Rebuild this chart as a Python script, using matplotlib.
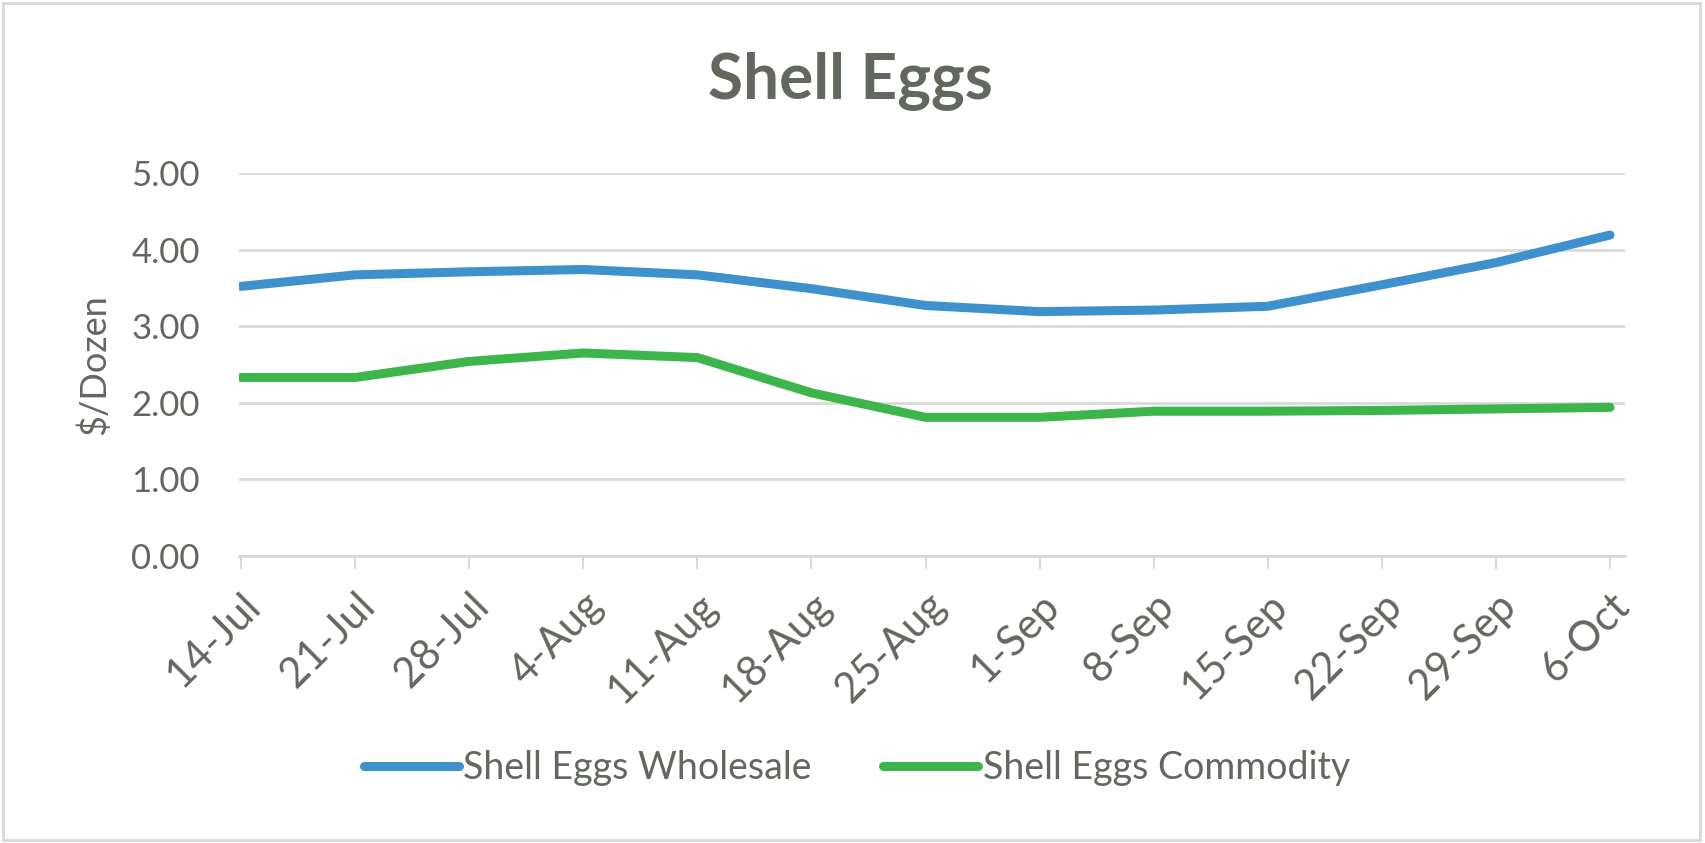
import matplotlib.pyplot as plt
from matplotlib.patches import Rectangle
from matplotlib.transforms import ScaledTranslation

# Weekly prices, $/dozen
weeks = ['14-Jul', '21-Jul', '28-Jul', '4-Aug', '11-Aug', '18-Aug', '25-Aug',
         '1-Sep', '8-Sep', '15-Sep', '22-Sep', '29-Sep', '6-Oct']
wholesale = [3.52, 3.67, 3.71, 3.74, 3.67, 3.49, 3.27, 3.19, 3.21, 3.26, 3.54, 3.83, 4.19]
commodity = [2.33, 2.33, 2.54, 2.65, 2.59, 2.13, 1.81, 1.81, 1.89, 1.89, 1.90, 1.92, 1.94]

text_color = '#62675f'
grid_color = '#d9d9d9'

plt.rcParams['font.family'] = ['Lato', 'DejaVu Sans']

fig = plt.figure(figsize=(17.05, 8.43), dpi=100)
ax = fig.add_axes([0.140, 0.3405, 0.813, 0.4543])

x = list(range(len(weeks)))
ax.plot(x, wholesale, color='#3d91cd', lw=6.5, solid_capstyle='round',
        solid_joinstyle='round', label='Shell Eggs Wholesale')
ax.plot(x, commodity, color='#3cb54a', lw=6.5, solid_capstyle='round',
        solid_joinstyle='round', label='Shell Eggs Commodity')

# Axes styling
ax.set_ylim(0, 5)
ax.set_yticks([0, 1, 2, 3, 4, 5])
ax.set_yticklabels(['%.2f' % v for v in [0, 1, 2, 3, 4, 5]])
ax.set_xlim(-0.02, 12.13)
ax.set_xticks(x)
ax.set_xticklabels(weeks, rotation=45, ha='right', rotation_mode='anchor')

# nudge the slanted date labels a little to the right, like the original
shift = ScaledTranslation(12 / 100, 0, fig.dpi_scale_trans)
for lbl in ax.get_xticklabels():
    lbl.set_transform(lbl.get_transform() + shift)

ax.grid(axis='y', color=grid_color, lw=2)
ax.set_axisbelow(True)
for side in ['top', 'right', 'left']:
    ax.spines[side].set_visible(False)
ax.spines['bottom'].set_color(grid_color)
ax.spines['bottom'].set_linewidth(2)

ax.tick_params(axis='y', length=0, pad=28, labelsize=25, labelcolor=text_color)
ax.tick_params(axis='x', length=9.5, width=1.5, color=grid_color, pad=12,
               labelsize=30, labelcolor=text_color)

ax.set_ylabel('$/Dozen', fontsize=26, color=text_color, labelpad=14)

fig.suptitle('Shell Eggs', fontsize=46, fontweight='bold', color=text_color,
             x=0.4985, y=0.94)

fig.legend(loc='center', bbox_to_anchor=(0.5026, 0.089), ncol=2, frameon=False,
           fontsize=27, handlelength=2.53, handletextpad=0.12, columnspacing=1.9,
           labelcolor=text_color)

# light frame round the whole chart
fig.patches.append(Rectangle((0.002, 0.003), 0.995, 0.994, transform=fig.transFigure,
                             fill=False, edgecolor=grid_color, lw=2))

fig.savefig('out.png', dpi=100)
plt.close(fig)
